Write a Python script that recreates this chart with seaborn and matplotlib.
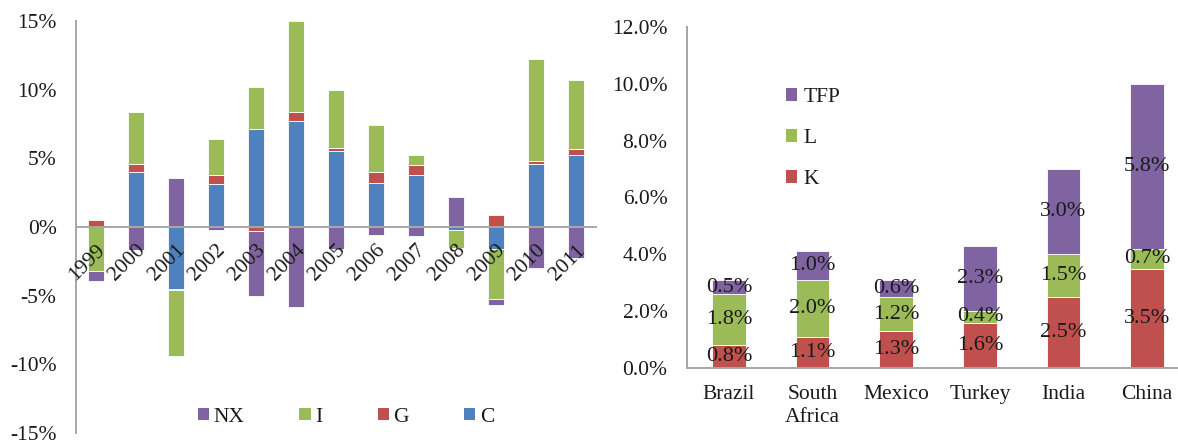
import numpy as np
import pandas as pd
import matplotlib
matplotlib.use("Agg")
import matplotlib.pyplot as plt
import matplotlib.ticker as mticker
from matplotlib.patches import Patch
import seaborn as sns

# ---- Left panel: contributions to growth by demand component (%) ----
years = ["1999", "2000", "2001", "2002", "2003", "2004", "2005",
         "2006", "2007", "2008", "2009", "2010", "2011"]
C = [0.0, 4.0, -4.5, 3.15, 7.1, 7.75, 5.5, 3.2, 3.8, -0.2, -1.6, 4.6, 5.25]
G = [0.5, 0.6, -0.07, 0.65, -0.3, 0.6, 0.25, 0.8, 0.7, 0.1, 0.85, 0.2, 0.45]
I = [-3.2, 3.8, -4.8, 2.6, 3.1, 6.65, 4.25, 3.45, 0.75, -1.35, -3.65, 7.4, 5.0]
NX = [-0.7, -1.65, 3.6, -0.25, -4.7, -5.8, -1.6, -0.6, -0.65, 2.05, -0.45, -3.0, -2.25]

# ---- Right panel: growth accounting by country (%) ----
countries = ["Brazil", "South\nAfrica", "Mexico", "Turkey", "India", "China"]
K = [0.8, 1.1, 1.3, 1.6, 2.5, 3.5]
L = [1.8, 2.0, 1.2, 0.4, 1.5, 0.7]
TFP = [0.5, 1.0, 0.6, 2.3, 3.0, 5.8]

BLUE, RED, GREEN, PURPLE = "#4F81BD", "#C0504D", "#9BBB59", "#8064A2"
AXIS_GREY = "#A6A6A6"
TEXT = "#1a1a1a"

sns.set_theme(style="white")
plt.rcParams["font.family"] = ["Liberation Serif", "DejaVu Serif"]
plt.rcParams["text.color"] = TEXT
plt.rcParams["xtick.color"] = AXIS_GREY
plt.rcParams["ytick.color"] = AXIS_GREY
plt.rcParams["xtick.labelcolor"] = TEXT
plt.rcParams["ytick.labelcolor"] = TEXT
plt.rcParams["axes.axisbelow"] = False

FS = 15.5

fig = plt.figure(figsize=(11.78, 4.4), dpi=100)


def stacked(ax, cats, series, colors, width):
    """Draw bars stacked Excel-style: positives up, negatives down."""
    n = len(cats)
    pos = np.zeros(n)
    neg = np.zeros(n)
    for vals, col in zip(series, colors):
        v = np.asarray(vals, dtype=float)
        bottom = np.where(v >= 0, pos, neg)
        df = pd.DataFrame({"cat": cats, "val": v})
        sns.barplot(data=df, x="cat", y="val", order=cats, color=col,
                    width=width, bottom=bottom, errorbar=None,
                    saturation=1, edgecolor="white", linewidth=0.6, ax=ax)
        pos = np.where(v >= 0, pos + v, pos)
        neg = np.where(v < 0, neg + v, neg)


def style_axis(ax, n):
    ax.set_axisbelow(False)
    for s in ("top", "right"):
        ax.spines[s].set_visible(False)
    for s in ("left", "bottom"):
        ax.spines[s].set_color(AXIS_GREY)
        ax.spines[s].set_linewidth(1.4)
    ax.set_xlim(-0.5, n - 0.5)
    ax.set_xlabel("")
    ax.set_ylabel("")
    ax.xaxis.set_minor_locator(mticker.FixedLocator(np.arange(-0.5, n, 1.0)))
    ax.tick_params(axis="x", which="minor", length=5, width=1.4,
                   color=AXIS_GREY, direction="out")
    ax.tick_params(axis="y", which="major", length=5, width=1.4,
                   color=AXIS_GREY, direction="out", labelsize=FS, pad=9)


# ---------------- left chart ----------------
axL = fig.add_axes([76 / 1178, 1 - 433 / 440, (596 - 76) / 1178, (433 - 21) / 440])
stacked(axL, years, [C, G, I, NX], [BLUE, RED, GREEN, PURPLE], 0.41)
style_axis(axL, len(years))
axL.set_ylim(-15, 15)
axL.set_yticks(np.arange(-15, 16, 5))
axL.yaxis.set_major_formatter(mticker.FuncFormatter(lambda v, p: f"{v:.0f}%"))
axL.spines["bottom"].set_position(("data", 0))
axL.set_xticks(range(len(years)))
axL.set_xticklabels(years)
axL.tick_params(axis="x", which="major", length=0, labelsize=FS, pad=10)
for lab in axL.get_xticklabels():
    lab.set_rotation(45)
    lab.set_rotation_mode("anchor")
    lab.set_ha("right")
    lab.set_va("top")

legL_items = [("NX", PURPLE), ("I", GREEN), ("G", RED), ("C", BLUE)]
axL.legend(handles=[Patch(facecolor=c, edgecolor="none", label=t) for t, c in legL_items],
           loc="center", bbox_to_anchor=(346 / 1178, 1 - 417 / 440),
           bbox_transform=fig.transFigure, ncol=4, frameon=False,
           fontsize=FS, handlelength=0.52, handleheight=0.52,
           handletextpad=0.22, columnspacing=2.55, borderpad=0)

# ---------------- right chart ----------------
axR = fig.add_axes([687 / 1178, 1 - 368 / 440, (1189 - 687) / 1178, (368 - 27) / 440])
stacked(axR, countries, [K, L, TFP], [RED, GREEN, PURPLE], 0.4)
style_axis(axR, len(countries))
axR.set_ylim(0, 12)
axR.set_yticks(np.arange(0, 12.1, 2))
axR.yaxis.set_major_formatter(mticker.FuncFormatter(lambda v, p: f"{v:.1f}%"))
axR.set_xticks(range(len(countries)))
axR.set_xticklabels(countries, linespacing=1.3)
axR.tick_params(axis="x", which="major", length=0, labelsize=FS, pad=12)
axR.spines["bottom"].set_clip_on(False)

# value labels centred in each segment
base = np.zeros(len(countries))
for vals in (K, L, TFP):
    for i, v in enumerate(vals):
        axR.text(i, base[i] + v / 2, f"{v:.1f}%", ha="center", va="center",
                 fontsize=16, color=TEXT)
    base = base + np.asarray(vals)

legR_items = [("TFP", PURPLE), ("L", GREEN), ("K", RED)]
axR.legend(handles=[Patch(facecolor=c, edgecolor="none", label=t) for t, c in legR_items],
           loc="upper left", bbox_to_anchor=(786 / 1178, 1 - 88 / 440),
           bbox_transform=fig.transFigure, frameon=False, fontsize=FS,
           handlelength=0.52, handleheight=0.52, handletextpad=0.3,
           labelspacing=1.02, borderpad=0, borderaxespad=0)

fig.savefig("out.png", dpi=100)
